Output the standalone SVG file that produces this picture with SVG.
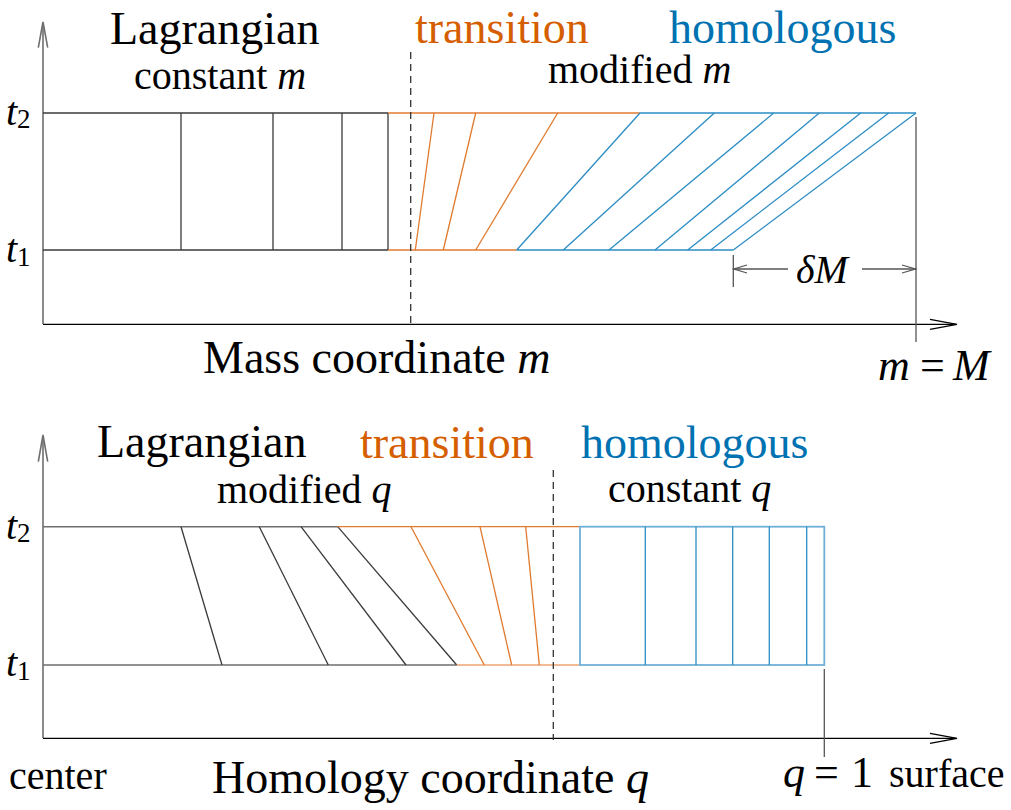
<svg xmlns="http://www.w3.org/2000/svg" width="1011" height="810" viewBox="0 0 1011 810">
<style>
text{font-family:"Liberation Serif","Times New Roman",serif;fill:#000}
.big{font-size:46px}
.sub{font-size:40px}
.it{font-style:italic}
.or{fill:#D55E00}
.bl{fill:#0072B2}
.ax{stroke:#000;stroke-width:1.3;fill:none}
.ay{stroke:#6e6e6e;stroke-width:1.6;fill:none}
.k{stroke:#3a3a3a;stroke-width:1.3;fill:none}
.kg{stroke:#6e6e6e;stroke-width:1.6;fill:none}
.o{stroke:#E07A2E;stroke-width:1.3;fill:none}
.ol{stroke:#EFA374;stroke-width:1.6;fill:none}
.b{stroke:#2B8CC4;stroke-width:1.3;fill:none}
.bll{stroke:#6FB0D8;stroke-width:1.8;fill:none}
.g{stroke:#555;stroke-width:1.3;fill:none}
.d{stroke:#333;stroke-width:1.3;stroke-dasharray:7,5;fill:none}
</style>
<g id="top-panel">
<g id="top-axes">
<line class="ay" x1="43" y1="324" x2="43" y2="23"/>
<polyline class="ay" points="38.3,47.7 43,22 47.7,47.7"/>
<line class="ax" x1="43" y1="324.3" x2="956" y2="324.3"/>
<polyline class="ax" points="930,319.3 957,324.3 930,329.3"/>
</g>
<g id="top-lagrangian">
<line class="k" x1="43" y1="113" x2="388" y2="113"/>
<line class="k" x1="43" y1="250" x2="388" y2="250"/>
<line class="k" x1="181" y1="113" x2="181" y2="250"/>
<line class="k" x1="273" y1="113" x2="273" y2="250"/>
<line class="k" x1="342" y1="113" x2="342" y2="250"/>
<line class="k" x1="388" y1="113" x2="388" y2="250"/>
</g>
<g id="top-transition">
<line class="o" x1="388" y1="113" x2="640" y2="113"/>
<line class="o" x1="388" y1="250" x2="516.7" y2="250"/>
<line class="o" x1="415.3" y1="250" x2="434" y2="113"/>
<line class="o" x1="443.3" y1="250" x2="475.7" y2="113"/>
<line class="o" x1="475.7" y1="250" x2="557.7" y2="113"/>
</g>
<g id="top-homologous">
<line class="b" x1="640" y1="113" x2="916" y2="113"/>
<line class="b" x1="516.7" y1="250" x2="733.3" y2="250"/>
<line class="b" x1="516.7" y1="250" x2="640" y2="113"/>
<line class="b" x1="563.3" y1="250" x2="714.3" y2="113"/>
<line class="b" x1="609" y1="250" x2="773.7" y2="113"/>
<line class="b" x1="655" y1="250" x2="819.3" y2="113"/>
<line class="b" x1="687.7" y1="250" x2="860.7" y2="113"/>
<line class="b" x1="710.7" y1="250" x2="888.7" y2="113"/>
<line class="b" x1="733.3" y1="250" x2="916" y2="113"/>
</g>
<g id="top-deltaM">
<line class="g" x1="916" y1="117" x2="916" y2="342"/>
<line class="g" x1="733.3" y1="255" x2="733.3" y2="287"/>
<line class="g" x1="733.3" y1="269" x2="788" y2="269"/>
<polyline class="g" points="747,265 733.8,269 747,273"/>
<line class="g" x1="862" y1="269" x2="916" y2="269"/>
<polyline class="g" points="902,265 915.5,269 902,273"/>
<text class="sub it" x="796" y="283">δM</text>
</g>
<line id="top-divider" class="d" x1="410.7" y1="52" x2="410.7" y2="325"/>
<g id="top-labels">
<text class="big" x="110" y="44">Lagrangian</text>
<text class="sub" x="134" y="89">constant <tspan class="it">m</tspan></text>
<text class="big or" x="415" y="43">transition</text>
<text class="big bl" x="669" y="43">homologous</text>
<text class="sub" x="548" y="83">modified <tspan class="it">m</tspan></text>
<text class="big" x="203" y="373">Mass coordinate <tspan class="it">m</tspan></text>
<text style="font-size:44px" x="878" y="380"><tspan class="it">m</tspan><tspan x="920">=</tspan><tspan class="it" x="953">M</tspan></text>
<text class="it" style="font-size:40px" x="6" y="125">t<tspan class="" style="font-style:normal;font-size:27px" x="17" y="128">2</tspan></text>
<text class="it" style="font-size:40px" x="6" y="262">t<tspan style="font-style:normal;font-size:27px" x="17" y="266">1</tspan></text>
</g>
</g>
<g id="bottom-panel">
<g id="bottom-axes">
<line class="ay" x1="43" y1="738" x2="43" y2="436"/>
<polyline class="ay" points="38.3,461.7 43,435 47.7,461.7"/>
<line class="ax" x1="43" y1="738.3" x2="956" y2="738.3"/>
<polyline class="ax" points="930,733.3 957,738.3 930,743.3"/>
</g>
<g id="bottom-lagrangian">
<line class="kg" x1="43" y1="526.7" x2="337.7" y2="526.7"/>
<line class="kg" x1="43" y1="665" x2="456.7" y2="665"/>
<line class="k" x1="181" y1="526.7" x2="222" y2="665"/>
<line class="k" x1="259.3" y1="526.7" x2="328.3" y2="665"/>
<line class="k" x1="301" y1="526.7" x2="406" y2="665"/>
<line class="k" x1="337.7" y1="526.7" x2="456.7" y2="665"/>
</g>
<g id="bottom-transition">
<line class="o" x1="337.7" y1="526.7" x2="580" y2="526.7"/>
<line class="ol" x1="456.7" y1="665" x2="580" y2="665"/>
<line class="o" x1="411" y1="526.7" x2="484.3" y2="665"/>
<line class="o" x1="480" y1="526.7" x2="511.7" y2="665"/>
<line class="o" x1="525.7" y1="526.7" x2="539.3" y2="665"/>
</g>
<g id="bottom-homologous">
<rect class="bll" x="580" y="526.7" width="244.3" height="138.3"/>
<line class="b" x1="645.3" y1="526.7" x2="645.3" y2="665"/>
<line class="b" x1="696" y1="526.7" x2="696" y2="665"/>
<line class="b" x1="732.7" y1="526.7" x2="732.7" y2="665"/>
<line class="b" x1="769.3" y1="526.7" x2="769.3" y2="665"/>
<line class="b" x1="806.7" y1="526.7" x2="806.7" y2="665"/>
</g>
<line id="bottom-surface-tick" class="g" x1="824.3" y1="669" x2="824.3" y2="757"/>
<line id="bottom-divider" class="d" x1="553.3" y1="470" x2="553.3" y2="740"/>
<g id="bottom-labels">
<text class="big" x="97" y="457">Lagrangian</text>
<text class="sub" x="217" y="503">modified <tspan class="it">q</tspan></text>
<text class="big or" x="360" y="458">transition</text>
<text class="big bl" x="581" y="458">homologous</text>
<text class="sub" x="608" y="502">constant <tspan class="it">q</tspan></text>
<text class="sub" x="9" y="789">center</text>
<text class="big" x="212" y="793">Homology coordinate <tspan class="it">q</tspan></text>
<text style="font-size:44px" x="783" y="787"><tspan class="it">q</tspan><tspan x="814">=</tspan><tspan x="851">1</tspan></text>
<text class="sub" x="889" y="787">surface</text>
<text class="it" style="font-size:40px" x="6" y="539">t<tspan style="font-style:normal;font-size:27px" x="17" y="542">2</tspan></text>
<text class="it" style="font-size:40px" x="6" y="676">t<tspan style="font-style:normal;font-size:27px" x="17" y="680">1</tspan></text>
</g>
</g>
</svg>
